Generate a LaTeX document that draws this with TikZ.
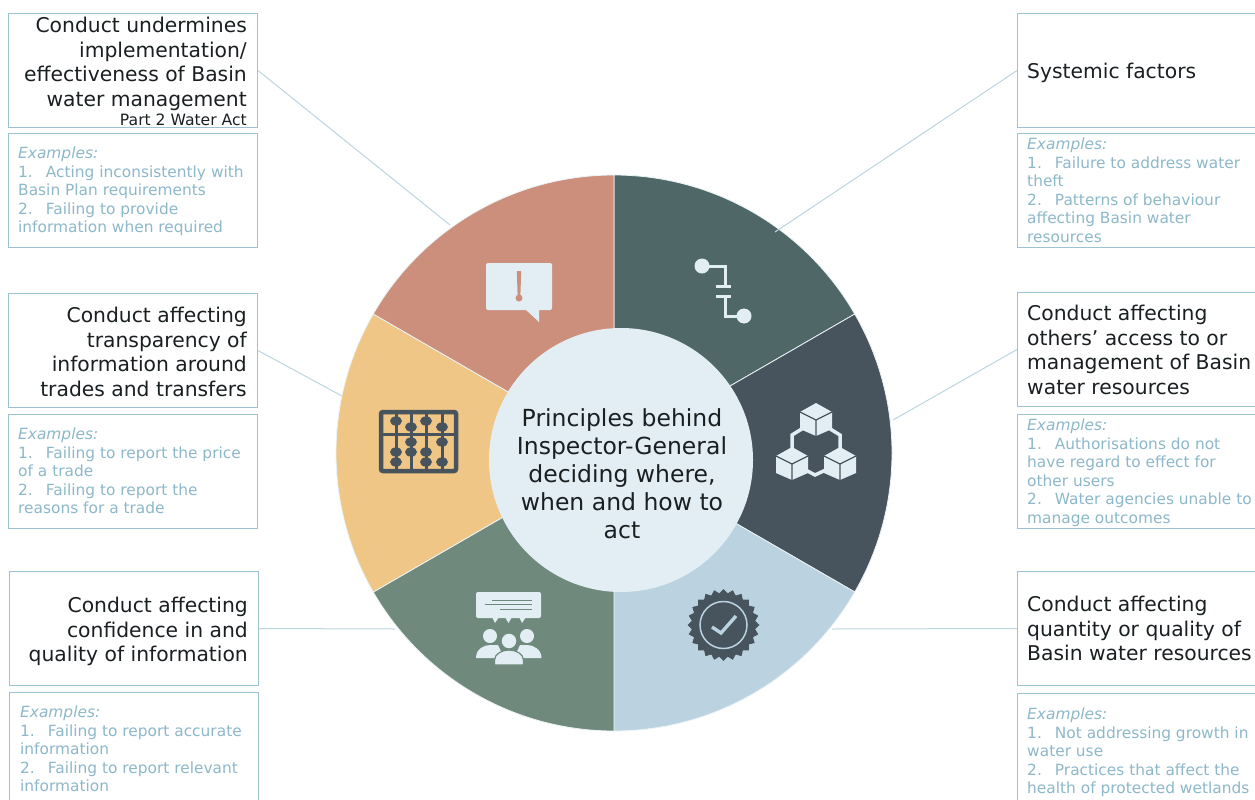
\documentclass[tikz,border=0pt]{standalone}
\usepackage{fontspec}
\setmainfont{DejaVu Sans}
\usetikzlibrary{shapes.geometric}
\definecolor{boxline}{HTML}{9CC3D3}
\definecolor{conn}{HTML}{BDD5DF}
\definecolor{extext}{HTML}{8DB8CA}
\definecolor{ink}{HTML}{1A1F22}
\definecolor{segA}{HTML}{4F6867}
\definecolor{segB}{HTML}{47545E}
\definecolor{segC}{HTML}{BBD3E0}
\definecolor{segD}{HTML}{6F8A7D}
\definecolor{segE}{HTML}{EFC685}
\definecolor{segF}{HTML}{CC8F7C}
\definecolor{hub}{HTML}{E2EEF4}
\newcommand{\numgap}{\hspace*{13pt}}
\tikzset{
  x=1pt,y=-1pt,
  framebox/.style={draw=boxline,line width=1pt,minimum width=249pt,anchor=north west,inner sep=0pt},
  titlebox/.style={framebox,minimum height=114pt},
  exbox/.style={framebox,minimum height=114pt},
  titleL/.style={anchor=north east,inner sep=0pt,align=right,text=ink,font=\fontsize{20.3}{24.5}\selectfont},
  titleR/.style={anchor=north west,inner sep=0pt,align=left,text=ink,font=\fontsize{20.3}{24.5}\selectfont},
  extextn/.style={anchor=north west,inner sep=0pt,align=left,text=extext,font=\fontsize{15.4}{18.5}\selectfont},
  link/.style={draw=conn,line width=1pt},
  seg/.style={draw=hub!70!white,line width=0.8pt},
}
\newcommand{\wedgeseg}[3]{\path[seg,fill=#3] (614,453) -- ++({278*cos(#1)},{-278*sin(#1)}) arc[start angle=-#1,end angle=-#2,radius=278] -- cycle;}
\newcommand{\cube}[2]{%
  \fill[hub] (#1,#2-16) -- (#1+16,#2-7) -- (#1+16,#2+10) -- (#1,#2+17) -- (#1-16,#2+10) -- (#1-16,#2-7) -- cycle;
  \draw[segB,line width=1.2pt] (#1-16,#2-7) -- (#1,#2+1) -- (#1+16,#2-7) (#1,#2+1) -- (#1,#2+17);}
\begin{document}
\begin{tikzpicture}
\useasboundingbox (0,0) rectangle (1255,800);
\fill[white] (0,0) rectangle (1255,800);
% wheel
\wedgeseg{90}{30}{segA}
\wedgeseg{30}{-30}{segB}
\wedgeseg{-30}{-90}{segC}
\wedgeseg{-90}{-150}{segD}
\wedgeseg{-150}{-210}{segE}
\wedgeseg{150}{90}{segF}
\node[circle,fill=hub,draw=none,minimum size=264pt,inner sep=0pt] (hubn) at (621,460) {};
\node[anchor=north,inner sep=0pt,align=center,text=ink,font=\fontsize{23.5}{28}\selectfont] (hubt) at (622,408) {Principles behind\\Inspector-General\\deciding where,\\when and how to\\act};
% boxes
\node[titlebox] (t1) at (8,13) {};
\node[exbox] (e1) at (8,133) {};
\node[titlebox] (t2) at (8,293) {};
\node[exbox] (e2) at (8,414) {};
\node[titlebox] (t3) at (9,571) {};
\node[exbox,minimum height=120pt] (e3) at (9,692) {};
\node[titlebox] (t4) at (1017,13) {};
\node[exbox] (e4) at (1017,133) {};
\node[titlebox] (t5) at (1017,292) {};
\node[exbox] (e5) at (1017,414) {};
\node[titlebox] (t6) at (1017,571) {};
\node[exbox,minimum height=120pt] (e6) at (1017,693) {};
% texts
\node[titleL] (tt1) at (247,17) {Conduct undermines\\implementation/\\effectiveness of Basin\\water management};
\node[anchor=north east,inner sep=0pt,text=ink,font=\fontsize{15.6}{17}\selectfont] (tt1b) at (247,114) {Part 2 Water Act};
\node[titleL] (tt2) at (247,307) {Conduct affecting\\transparency of\\information around\\trades and transfers};
\node[titleL] (tt3) at (248,597) {Conduct affecting\\confidence in and\\quality of information};
\node[titleR] (tt4) at (1027,63) {Systemic factors};
\node[titleR] (tt5) at (1027,305) {Conduct affecting\\others’ access to or\\management of Basin\\water resources};
\node[titleR] (tt6) at (1027,596) {Conduct affecting\\quantity or quality of\\Basin water resources};
\node[extextn] (et1) at (18,147) {\textit{Examples:}\\1.\numgap Acting inconsistently with\\Basin Plan requirements\\2.\numgap Failing to provide\\information when required};
\node[extextn] (et2) at (18,428) {\textit{Examples:}\\1.\numgap Failing to report the price\\of a trade\\2.\numgap Failing to report the\\reasons for a trade};
\node[extextn] (et3) at (20,706) {\textit{Examples:}\\1.\numgap Failing to report accurate\\information\\2.\numgap Failing to report relevant\\information};
\node[extextn] (et4) at (1027,138) {\textit{Examples:}\\1.\numgap Failure to address water\\theft\\2.\numgap Patterns of behaviour\\affecting Basin water\\resources};
\node[extextn] (et5) at (1027,419) {\textit{Examples:}\\1.\numgap Authorisations do not\\have regard to effect for\\other users\\2.\numgap Water agencies unable to\\manage outcomes};
\node[extextn] (et6) at (1027,708) {\textit{Examples:}\\1.\numgap Not addressing growth in\\water use\\2.\numgap Practices that affect the\\health of protected wetlands};
% connectors
\coordinate (c1) at (450,225);
\coordinate (c2) at (342,396);
\coordinate (c3) at (395,629);
\coordinate (c4) at (775,232);
\coordinate (c5) at (893,420);
\coordinate (c6) at (832,629);
\draw[link] (t1.east) -- (c1);
\draw[link] (t2.east) -- (c2);
\draw[link] (t3.east) -- (c3);
\draw[link] (t4.west) -- (c4);
\draw[link] (t5.west) -- (c5);
\draw[link] (t6.west) -- (c6);
% alert icon
\fill[hub,rounded corners=2pt] (486,263) rectangle (552,310);
\fill[hub] (525,309) -- (539,322) -- (539,309) -- cycle;
\fill[segF] (516.8,271) -- (521.2,271) -- (520.4,295) -- (517.6,295) -- cycle;
\fill[segF] (519,298) circle[radius=3.5];
% path icon
\fill[hub] (702,266) circle[radius=7.5];
\fill[hub] (744,316) circle[radius=7.5];
\draw[hub,line width=3pt] (702,266) -- (725,266) -- (725,286);
\draw[hub,line width=3pt] (716,286) -- (731,286);
\draw[hub,line width=3pt] (716,296) -- (731,296);
\draw[hub,line width=3pt] (725,296) -- (725,316) -- (744,316);
% abacus icon
\draw[segB,line width=4.5pt,rounded corners=2pt] (381,412) rectangle (456,471);
\draw[segB,line width=3pt] (381,434) -- (456,434);
\foreach \rx in {396,411,426,442} \draw[segB,line width=3pt] (\rx,412) -- (\rx,471);
\foreach \bx/\by in {396/421,396/452,396/462,411/427,411/442,411/452,426/421,426/452,426/462,442/427,442/442,442/462}
  \fill[segB] (\bx,\by) ellipse[x radius=6,y radius=4.6];
% blocks icon
\draw[hub,line width=3.5pt] (805,427) -- (792,435) -- (792,452);
\draw[hub,line width=3.5pt] (827,427) -- (840,435) -- (840,452);
\draw[hub,line width=3.5pt] (800,467) -- (815,475) -- (832,467);
\cube{816}{419}
\cube{792}{463}
\cube{840}{463}
% speech and people icon
\fill[hub,rounded corners=2pt] (476,592) rectangle (541,618);
\fill[hub] (492,617) -- (495,623) -- (499,617) -- cycle;
\fill[hub] (505,617) -- (508.5,623) -- (512,617) -- cycle;
\fill[hub] (519,617) -- (522,623) -- (526,617) -- cycle;
\draw[segD,line width=1pt] (492,600) -- (532,600) (485,604.5) -- (532,604.5) (500,609) -- (532,609);
\fill[hub] (490,636) circle[radius=7];
\fill[hub] (527,636) circle[radius=7];
\fill[hub] (476,658) .. controls (476,649) and (484,645) .. (490,645) -- (498,645) -- (504,658) -- cycle;
\fill[hub] (541.5,658) .. controls (541.5,649) and (533,645) .. (527,645) -- (520,645) -- (514,658) -- cycle;
\path[fill=hub,draw=segD,line width=1.2pt] (494.5,665) -- (494.5,660) .. controls (494.5,654) and (502,650) .. (509,650) .. controls (516,650) and (523.5,654) .. (523.5,660) -- (523.5,665) -- cycle;
\path[fill=hub,draw=segD,line width=1.2pt] (509,641) circle[radius=8];
% badge icon
\node[star,star points=24,star point ratio=1.13,fill=segB,draw=none,minimum size=72pt,inner sep=0pt] (badge) at (723.5,625) {};
\draw[segC,line width=1.5pt] (723.5,625) circle[radius=23.5];
\draw[segC,line width=3.4pt] (712,627) -- (721,633) -- (736,616);
\end{tikzpicture}
\end{document}
